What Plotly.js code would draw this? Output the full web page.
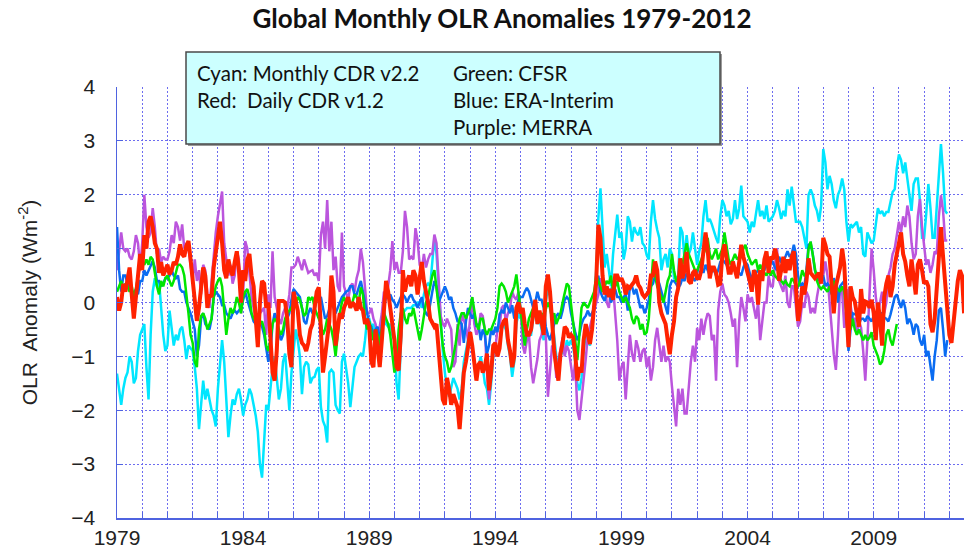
<!DOCTYPE html>
<html>
<head>
<meta charset="utf-8">
<script src="https://cdn.plot.ly/plotly-3.0.1.min.js"></script>
<style>html,body{margin:0;padding:0;background:#fff;}#chart{width:964px;height:550px;}</style>
</head>
<body>
<div id="chart"></div>
<script>
// Monthly series, first value = January 1979
const startYear = 1979;
const tickYears = [1979, 1984, 1989, 1994, 1999, 2004, 2009];

const cyanMonthlyCDR = [
-1.32,-1.6,-1.9,-1.6,-1.4,-1.3,-1.0,-1.1,-1.5,-1.4,-0.9,-0.6,
-0.5,-0.4,-1.2,-1.8,-0.6,0.2,0.45,0.3,0.4,-0.15,-0.6,-0.9,
-0.8,-0.15,-0.5,-0.8,-0.6,-0.7,-0.5,-0.45,-0.7,-1.05,-0.8,-0.85,
-0.9,-1.2,-1.6,-2.35,-1.9,-1.45,-1.8,-1.6,-1.8,-2.0,-2.1,-2.3,
-1.6,-1.2,-0.7,-1.1,-1.7,-2.5,-2.1,-1.8,-1.9,-1.7,-1.6,-1.8,
-2.1,-1.9,-1.8,-1.6,-1.7,-1.9,-2.1,-2.4,-3.0,-3.25,-2.5,-1.9,
-2.0,-1.6,-1.2,-1.0,-1.4,-1.8,-1.6,-1.1,-0.95,-1.5,-2.0,-1.3,
-0.9,-0.5,-0.7,-1.0,-1.7,-1.2,-1.1,-1.15,-1.5,-1.4,-1.38,-1.25,
-1.2,-1.94,-2.2,-2.3,-2.6,-1.3,-1.25,-1.3,-1.9,-2.0,-2.06,-1.1,
-0.95,-1.2,-1.5,-1.94,-1.5,-1.2,-1.1,-1.0,-0.95,-1.0,-0.7,-0.3,
-0.3,-0.45,-0.4,-0.7,-0.95,-0.85,-0.6,-0.1,-0.4,-0.45,-0.4,-0.6,
-0.7,-1.5,-1.8,-0.8,-0.2,-0.15,-0.1,-0.1,-0.1,-0.05,-0.05,0.0,
0.0,-0.1,0.15,0.3,0.35,0.3,0.7,1.2,0.9,0.3,-0.5,-0.9,
-1.3,-1.6,-1.75,-1.6,-1.4,-1.5,-1.6,-1.8,-1.6,-1.1,-0.9,-0.7,
-0.6,-0.8,-1.1,-1.3,-1.2,-1.0,-1.2,-1.5,-1.6,-1.9,-1.5,-1.0,
-0.8,-0.9,-0.8,-0.5,-0.4,-0.5,-0.8,-1.0,-1.38,-1.1,-0.4,-0.2,
-0.3,-0.2,-0.5,-0.7,-0.6,-0.6,-0.3,-0.1,-0.4,-0.3,-0.5,-0.7,
0.0,0.3,0.1,-0.3,-0.7,-1.0,-1.2,-1.0,-0.9,-0.95,-0.7,-0.8,
-0.7,-0.8,-1.1,-1.5,-1.63,-1.4,-0.9,-0.6,-0.7,-0.8,-0.5,-0.1,
0.6,1.57,2.12,1.3,0.65,0.9,0.6,0.3,0.9,1.3,1.63,1.2,
1.3,0.8,1.0,1.6,1.5,1.13,1.4,1.3,1.25,1.4,1.1,1.05,
0.88,0.8,1.5,1.9,1.55,1.35,1.2,0.6,0.8,0.9,0.65,1.0,
0.9,0.45,0.45,0.5,1.4,1.3,0.8,1.25,0.9,1.0,1.3,1.0,
0.7,0.95,1.1,1.6,1.9,1.5,1.55,1.45,1.3,1.2,1.1,1.6,
1.9,1.8,1.6,1.7,1.45,1.55,1.9,1.55,1.75,2.17,1.6,1.55,
1.5,1.3,1.5,1.4,1.65,1.9,1.6,1.7,1.55,1.8,1.5,1.55,
1.6,1.7,1.9,1.75,1.55,1.7,1.6,2.1,1.8,2.15,1.8,1.5,
1.5,1.5,1.4,1.2,1.0,2.0,2.1,2.0,1.8,1.7,1.5,1.8,
2.85,2.6,2.1,2.35,2.2,1.9,1.75,2.0,2.1,2.3,2.1,1.5,
1.13,1.45,1.4,1.45,1.5,1.3,1.4,0.9,0.85,1.3,1.2,1.1,
1.15,1.5,1.75,1.65,1.7,1.6,1.68,1.68,1.9,2.05,2.1,2.5,
2.75,2.65,2.4,2.6,2.3,1.95,1.7,2.2,2.3,2.3,1.9,1.2,
1.2,1.65,2.2,1.75,1.2,1.2,1.8,2.4,2.94,2.4,1.7,1.65
];

const purpleMERRA = [
0.6,1.0,1.3,1.0,0.95,1.0,0.85,0.8,0.95,1.25,1.1,0.65,
1.1,2.0,1.4,1.2,1.3,1.75,1.4,0.9,1.0,0.75,0.85,0.8,
0.8,0.95,1.25,1.1,1.5,1.4,1.15,1.45,1.0,1.1,1.0,0.7,
0.4,0.8,0.4,0.6,0.15,0.7,0.6,0.15,-0.1,0.4,0.9,1.3,
1.6,1.8,2.06,1.1,0.8,0.5,0.7,0.35,0.5,0.95,0.8,-0.2,
0.15,1.14,1.0,0.5,0.1,-0.1,-0.3,-0.5,-0.2,-0.15,-0.1,-0.6,
0.15,-0.1,0.95,0.1,-0.1,-0.3,-0.4,-0.2,-0.1,-0.1,0.15,0.65,
0.65,0.7,0.85,0.7,0.6,0.8,0.65,0.55,0.58,0.6,0.5,0.55,
0.4,1.25,1.5,1.0,1.9,0.95,1.5,0.6,0.85,0.3,0.2,1.3,
0.3,0.15,0.05,0.3,0.35,0.2,0.45,0.6,1.0,0.75,0.3,-0.2,
-0.2,-0.1,-0.3,-0.4,-0.6,-0.45,-0.2,0.2,0.15,0.3,0.6,1.14,
0.6,0.75,0.55,0.55,0.95,1.7,1.4,0.8,0.85,0.8,1.38,1.15,
0.7,0.6,0.9,0.65,0.8,0.9,0.9,1.26,1.1,0.3,-0.25,-0.4,
-0.45,-0.3,-0.4,-0.5,-1.2,-1.1,-0.4,-0.8,-0.2,-0.35,-0.45,-0.7,
-0.3,0.1,-0.4,-0.6,-0.5,-0.2,-0.25,-0.5,-1.3,-1.8,-1.3,-0.95,
-0.85,-0.5,-0.45,-0.1,-0.05,-0.35,-0.2,-0.1,0.2,0.1,0.05,0.2,
-0.1,-0.8,-0.95,-0.7,-0.6,-1.2,-1.5,-1.3,-1.05,-0.7,-0.6,-0.35,
-0.6,-1.75,-1.2,-0.8,-0.85,-1.4,-1.1,-0.85,-0.65,-1.0,-0.8,-0.9,
-1.2,-1.45,-1.1,-2.0,-2.18,-1.8,-1.5,-1.05,-0.6,-0.45,-0.3,-0.15,
0.05,0.15,0.45,0.3,0.4,0.0,-0.1,0.25,0.3,-0.2,-0.7,-1.45,
-1.2,-1.1,-1.8,-1.2,-0.6,-0.95,-1.1,-0.7,-0.85,-1.1,-0.9,-0.85,
-1.2,-1.0,-1.45,-1.2,-0.7,-0.47,-0.8,-1.1,-0.8,-1.1,-1.0,-1.1,
-1.55,-1.9,-2.3,-1.6,-1.9,-1.6,-2.06,-2.06,-1.55,-1.1,-0.8,-1.1,
-0.47,-0.7,-0.3,-0.6,-0.35,-0.2,-0.25,-0.7,-0.6,-1.45,-0.15,0.2,
0.35,0.15,0.1,0.0,-0.2,-0.45,-0.3,-1.2,-0.35,0.1,-0.1,-0.35,
0.15,0.0,0.1,-0.1,-0.3,0.0,-0.7,-0.35,0.0,0.0,0.5,0.3,
0.3,0.7,1.0,0.4,0.3,0.2,0.5,0.0,-0.1,0.3,0.3,-0.05,
-0.45,-0.35,0.0,-0.1,0.2,0.1,-0.2,-0.1,-0.2,0.1,0.3,0.55,
0.5,0.76,0.5,0.0,-0.47,-0.96,-1.25,-0.6,0.3,0.2,-0.47,-0.1,
0.25,-0.05,-0.3,-0.3,-0.6,-0.35,-0.47,-0.9,-1.45,-0.7,0.3,1.0,
0.6,0.1,-0.2,0.0,0.2,-0.2,0.0,0.5,0.65,0.9,1.0,1.25,
1.5,1.3,1.6,1.4,1.8,1.6,1.1,0.8,0.9,1.6,1.92,1.4,
1.0,0.7,0.8,0.55,0.7,0.95,0.9,1.6,1.99,1.7,1.15,1.15
];

const blueERAInterim = [
1.4,0.6,0.2,0.5,0.5,0.35,0.3,0.2,0.15,0.25,0.15,0.4,
0.4,0.6,0.5,0.6,0.7,0.77,0.65,0.4,0.4,0.3,0.35,0.45,
0.45,0.5,0.6,0.5,0.45,0.5,0.25,0.2,0.2,0.0,-0.1,-0.2,
-0.35,-0.5,-1.0,-0.8,-0.3,-0.2,-0.4,-0.45,-0.5,-0.3,0.1,0.2,
0.15,0.1,-0.05,-0.05,-0.2,-0.25,-0.3,-0.2,-0.15,-0.2,-0.15,-0.1,
0.05,0.2,0.05,-0.1,-0.25,-0.35,-0.4,-0.45,-0.35,-0.45,-0.6,-0.9,
-1.1,-0.9,-0.4,-0.2,-0.3,-0.55,-0.7,-0.6,-0.35,-0.3,-0.2,0.05,
0.25,0.2,0.15,0.1,-0.1,-0.35,-0.4,-0.2,-0.1,-0.2,-0.15,0.1,
0.05,0.1,-0.1,-0.3,-0.25,-0.1,0.0,-0.1,-0.2,-0.1,0.0,0.1,
0.15,0.2,0.22,0.3,0.3,0.15,0.15,0.27,0.4,0.2,0.0,-0.2,
-0.4,-0.45,-0.6,-0.5,-0.45,-0.7,-0.45,-0.1,0.1,0.1,0.15,0.05,
0.0,-0.1,0.0,0.1,0.15,0.1,0.0,0.1,0.15,0.05,0.0,-0.1,
0.0,0.1,-0.1,-0.2,-0.25,0.0,0.2,0.4,0.3,0.0,0.1,0.2,
0.3,0.2,0.05,0.1,-0.1,-0.2,-0.35,-0.35,-0.4,-0.75,-0.35,-0.1,
-0.2,-0.3,-0.2,-0.45,-0.4,-0.7,-0.5,-0.6,-0.95,-0.8,-0.5,-0.6,
-0.45,-0.55,-0.22,-0.15,-0.2,0.0,-0.1,-0.2,-0.05,-0.3,-0.1,0.05,
0.1,0.1,0.2,0.27,0.2,0.03,-0.1,0.0,0.2,0.05,0.05,-0.1,
-0.45,-0.6,-0.7,-0.55,-0.4,-0.25,-0.2,-0.3,-0.15,0.05,0.1,0.05,
-0.2,-0.4,-0.55,-0.7,-0.6,-0.4,-0.3,-0.25,-0.15,-0.25,-0.2,-0.1,
0.3,0.5,0.2,0.1,0.03,0.2,0.25,0.0,0.1,0.25,0.1,0.1,
0.0,0.1,0.15,-0.15,0.3,0.3,0.15,0.25,0.05,-0.1,-0.05,-0.2,
-0.1,0.05,0.3,0.35,0.5,0.35,0.35,0.2,0.1,-0.1,-0.22,0.3,
0.4,0.4,0.35,0.27,0.33,0.45,0.4,0.55,0.45,0.5,0.45,0.4,
0.55,0.7,0.65,0.55,0.7,0.6,0.5,0.6,0.6,0.5,0.6,0.75,
0.8,0.75,0.7,0.6,0.62,0.68,0.65,0.6,0.55,0.5,0.65,0.75,
0.7,0.55,0.4,0.6,0.55,0.6,0.55,0.55,0.6,0.75,0.6,0.75,
0.75,0.65,0.6,0.85,0.75,0.75,0.85,0.95,0.85,0.9,1.07,0.9,
0.5,0.3,0.35,0.3,0.6,1.07,1.1,0.9,0.6,0.5,0.4,0.45,
0.5,0.3,0.35,0.3,0.15,0.45,0.35,0.0,0.3,0.35,0.4,-0.2,
-0.9,-0.5,-0.2,-0.22,-0.22,-0.4,-0.3,-0.3,-0.35,-0.25,-0.3,-0.35,
-0.25,-0.45,-0.3,-0.2,-0.2,-0.28,-0.3,-0.35,-0.22,-0.05,0.1,0.15,
0.0,-0.1,0.05,-0.1,-0.4,-0.3,-0.4,-0.6,-0.4,-0.45,-0.7,-0.8,
-0.6,-1.0,-0.9,-1.2,-1.45,-1.0,-0.7,-0.15,-0.1,-0.5,-1.0,-0.7
];

const greenCFSR = [
0.2,0.3,0.4,0.25,0.35,0.3,0.2,0.3,0.1,0.25,0.5,0.7,
0.75,0.7,0.8,0.7,0.85,0.8,0.55,0.3,0.15,0.4,0.3,0.45,
0.5,0.4,0.3,0.4,0.55,0.7,0.7,0.65,0.5,0.2,-0.2,-0.6,
-0.75,-1.1,-1.2,-0.5,-0.25,-0.2,-0.3,-0.5,-0.4,-0.3,0.1,0.3,
0.4,0.46,0.3,-0.2,-0.6,-0.3,-0.1,-0.2,-0.1,0.1,0.0,-0.2,
0.1,0.2,0.25,0.1,-0.2,-0.3,-0.35,-0.5,-0.4,-0.35,-0.5,-0.8,
-0.9,-0.7,-0.4,-0.3,-0.35,-0.5,-0.6,-0.5,-0.3,-0.2,-0.15,-0.1,
0.0,-0.05,0.1,0.05,-0.1,-0.25,-0.2,0.1,0.05,0.1,-0.1,-0.2,
-0.3,-0.4,-0.6,-0.5,-0.3,-0.4,-0.5,-0.7,-1.0,-0.6,-0.2,0.0,
0.1,0.0,0.05,-0.1,0.0,0.15,0.1,0.0,0.28,0.15,-0.3,-0.5,
-0.35,-0.55,-0.7,-0.5,-0.6,-0.8,-0.5,-0.2,-0.3,-0.4,-0.6,-1.0,
-1.3,-1.1,-0.5,-0.2,-0.1,-0.3,-0.4,-0.2,-0.25,-0.1,-0.3,-0.5,
-0.7,-0.5,-0.2,0.0,0.1,0.3,0.5,0.6,0.3,0.0,-0.4,-0.8,
-1.0,-1.1,-1.3,-1.2,-1.0,-0.8,-0.5,-0.3,-0.2,-0.2,-0.3,-0.2,
-0.1,0.1,-0.2,-0.4,-0.5,-0.3,-0.3,-0.5,-0.6,-0.5,-0.5,-0.4,
-0.3,-0.1,0.3,0.35,0.3,0.2,0.0,0.1,0.2,0.3,0.52,0.2,
-0.1,-0.4,-0.8,-0.5,-0.3,-0.2,-0.1,-0.15,-0.2,-0.3,-0.2,-0.25,
-0.1,0.0,-0.1,-0.3,-0.2,-0.4,-0.3,-0.2,0.0,0.2,0.35,0.3,
0.0,-0.3,-0.7,-1.07,-0.5,-0.1,0.0,-0.05,-0.1,0.0,0.1,0.2,
0.5,0.4,0.3,0.2,0.3,0.4,0.35,0.5,0.2,0.3,0.4,0.2,
0.1,0.0,0.1,0.0,-0.1,-0.3,-0.4,-0.25,-0.3,-0.5,-0.4,-0.6,
-0.55,-0.3,0.3,0.8,0.5,0.3,0.2,0.1,0.0,0.2,0.4,0.5,
0.9,0.6,0.4,0.4,0.5,0.7,0.9,1.1,0.9,0.8,0.7,0.6,
0.6,0.7,0.8,0.9,1.0,1.2,0.9,0.8,0.9,1.0,0.8,0.9,
1.0,1.3,1.0,0.8,0.7,0.8,0.9,0.8,0.85,0.9,1.0,1.07,
0.9,0.8,0.7,0.75,0.8,0.6,0.7,0.6,0.55,0.5,0.6,0.5,
0.6,0.5,0.45,0.5,0.4,0.35,0.4,0.33,0.3,0.45,0.4,0.3,
0.3,0.4,0.6,0.5,0.5,1.0,1.13,0.9,0.6,0.4,0.3,0.25,
0.3,0.25,0.2,0.3,0.2,0.4,0.3,0.25,0.2,0.3,0.2,-0.2,
-0.4,-0.5,-0.3,-0.5,-0.6,-0.5,-0.6,-0.7,-0.6,-0.7,-0.65,-0.55,
-0.8,-0.9,-1.0,-1.15,-1.1,-0.9,-0.6,-0.5,-0.7,-0.8,-0.6,-0.4
];

const redDailyCDR = [
0.1,-0.15,0.0,0.35,0.2,0.4,0.65,0.15,-0.3,0.1,0.45,0.9,
0.6,1.25,1.0,1.5,1.6,1.4,1.1,1.0,0.55,0.75,0.5,0.6,
0.7,0.52,0.6,0.75,0.7,0.85,1.08,0.9,0.85,1.05,1.14,0.8,
0.4,0.1,-0.34,-0.1,0.35,0.65,0.5,-0.1,0.15,0.1,0.65,0.95,
1.26,1.5,1.1,0.6,0.45,0.8,0.6,0.5,0.75,0.95,0.6,0.0,
0.6,0.4,0.8,0.9,0.5,0.3,-0.3,-0.83,0.0,0.4,0.35,-0.1,
0.0,-0.7,-1.3,-1.45,-0.9,0.03,0.03,0.03,0.0,-0.3,-0.95,-1.2,
0.2,0.0,-0.15,-0.6,-0.75,-0.8,-0.9,-0.75,-0.5,-0.4,-0.1,0.2,
0.28,-0.5,-1.3,-1.0,-0.6,-0.35,0.5,0.2,-0.8,-0.45,-0.2,-0.3,
-0.1,0.0,0.1,-0.1,0.0,-0.05,-0.15,0.1,-0.1,-0.15,-0.4,-0.3,
-0.45,-1.1,-1.2,-0.5,-0.95,-1.2,-0.7,-0.2,0.4,0.2,-0.1,-0.4,
-0.7,-1.2,-1.26,-0.6,0.6,0.2,0.4,0.5,0.3,0.6,0.5,0.15,
0.4,0.75,0.4,0.2,0.0,-0.3,-0.4,-0.45,-0.4,-0.9,-1.4,-1.8,
-1.9,-1.4,-1.6,-1.9,-1.7,-1.8,-1.94,-2.35,-1.8,-1.3,-1.1,-0.75,
-0.55,-0.8,-1.2,-1.45,-1.15,-1.1,-1.3,-1.2,-0.95,-1.63,-1.3,-0.8,
-0.75,-1.0,-0.85,-0.45,-0.35,-0.3,-0.7,-0.9,-1.2,-1.0,-0.1,0.0,
-0.2,-0.1,-0.4,-0.6,-0.6,-0.5,-0.2,0.05,-0.4,-0.15,-0.35,-0.6,
0.3,0.52,0.2,-0.4,-0.9,-1.2,-1.45,-0.95,-0.75,-0.45,-0.5,-0.65,
-0.6,-0.65,-0.95,-1.45,-1.2,-1.3,-0.7,-0.4,-0.6,-0.77,-0.5,-0.1,
0.4,1.44,1.2,0.5,0.15,0.3,0.1,0.25,0.05,0.5,0.5,0.4,
0.45,0.35,0.15,0.3,0.27,0.33,0.38,0.5,0.33,0.27,0.15,0.1,
0.15,0.2,0.5,0.5,0.76,0.6,0.0,-0.2,-0.3,-0.4,-0.7,-0.96,
-0.6,-0.35,0.1,0.27,0.82,0.45,0.6,0.94,0.4,0.35,0.55,0.6,
0.45,0.45,0.6,1.0,1.3,1.0,0.45,0.65,0.65,0.55,0.33,0.35,
0.9,1.08,0.76,0.55,0.55,0.76,0.6,0.45,0.75,1.07,0.85,0.7,
0.6,0.4,0.2,0.6,0.5,-0.04,0.6,0.4,0.8,0.95,0.55,0.85,
0.8,1.0,0.85,0.4,0.6,0.85,0.55,0.8,0.6,0.85,0.95,0.4,
-0.34,-0.1,0.3,0.15,0.4,0.82,0.55,0.5,0.45,0.5,0.55,0.35,
1.2,1.07,0.9,0.85,0.3,-0.2,0.3,0.5,0.65,1.0,0.7,-0.1,
-0.83,0.3,0.1,0.02,-0.22,-0.45,0.25,-0.2,0.02,0.0,-0.1,0.05,
-0.2,-0.7,0.0,-0.3,-0.8,0.1,0.35,0.5,0.1,0.3,0.7,0.9,
1.1,1.3,0.9,0.76,0.5,0.3,0.8,0.4,0.15,0.7,0.8,0.6,
0.35,0.4,0.3,-0.4,-0.55,-0.3,0.27,0.9,1.4,0.85,0.3,-0.1,
-0.6,-0.75,-0.35,-0.1,0.4,0.6,0.5,-0.2
];

const legendLeft = ["Cyan: Monthly CDR v2.2", "Red:&nbsp; Daily CDR v1.2"];
const legendRight = ["Green: CFSR", "Blue: ERA-Interim", "Purple: MERRA"];

function monthAxis(values) {
  return values.map((_, i) => startYear + i / 12);
}

function series(values, color, width) {
  return {
    type: 'scatter', mode: 'lines',
    x: monthAxis(values), y: values,
    line: {color: color, width: width},
    hoverinfo: 'skip'
  };
}

const data = [
  series(cyanMonthlyCDR, '#00e6ff', 2.5),
  series(purpleMERRA, '#bb55dd', 2.5),
  series(blueERAInterim, '#0a6cf2', 2.5),
  series(greenCFSR, '#00e600', 2.5),
  series(redDailyCDR, '#ff2200', 4)
];

const axisColor = '#4f63e0';
const gridColor = '#6d6df0';
const tickFont = {family: "'Liberation Sans', Arial, sans-serif", size: 21, color: '#222'};

// plot area: x 117..964, y 87..518
const px = v => (v - 117) / 847;
const py = v => (518 - v) / 431;

const legendFont = {family: 'Lato, sans-serif', size: 20.5, color: '#111'};
const annotations = [];
legendLeft.forEach((t, i) => annotations.push({
  xref: 'paper', yref: 'paper', x: px(195), y: py(73 + 27 * i), xanchor: 'left', yanchor: 'middle',
  text: t, showarrow: false, font: legendFont
}));
legendRight.forEach((t, i) => annotations.push({
  xref: 'paper', yref: 'paper', x: px(451), y: py(73 + 27 * i), xanchor: 'left', yanchor: 'middle',
  text: t, showarrow: false, font: legendFont
}));

const layout = {
  width: 964, height: 550,
  margin: {l: 117, r: 0, t: 87, b: 32, pad: 0},
  paper_bgcolor: '#fff', plot_bgcolor: '#fff',
  showlegend: false,
  title: {
    text: 'Global Monthly OLR Anomalies 1979-2012',
    font: {family: 'Lato, sans-serif', size: 26, weight: 'bold', color: '#111'},
    xref: 'container', yref: 'container', x: 502 / 964, y: 1 - 19 / 550,
    xanchor: 'center', yanchor: 'middle'
  },
  xaxis: {
    range: [1979, 2012.58],
    tickmode: 'array', tickvals: tickYears, ticktext: tickYears.map(String),
    ticks: 'inside', ticklen: 6, tickcolor: axisColor, tickwidth: 1,
    showgrid: true, gridcolor: gridColor, griddash: '2px,2px', gridwidth: 1,
    minor: {tickmode: 'linear', tick0: 1979, dtick: 1, ticks: 'inside', ticklen: 6, tickcolor: axisColor,
            showgrid: true, gridcolor: gridColor, griddash: '2px,2px', gridwidth: 1},
    showline: true, linecolor: axisColor, linewidth: 1.5,
    zeroline: false, tickfont: tickFont, ticklabelstandoff: 0, fixedrange: true
  },
  yaxis: {
    range: [-4, 4], tickmode: 'linear', tick0: -4, dtick: 1,
    ticks: 'inside', ticklen: 6, tickcolor: axisColor,
    showgrid: true, gridcolor: gridColor, griddash: '2px,2px', gridwidth: 1,
    showline: true, linecolor: axisColor, linewidth: 1.5,
    zeroline: false, tickfont: tickFont, ticklabelstandoff: 16,
    title: {text: 'OLR&nbsp; Anomaly (Wm<sup>-2</sup>)', font: {family: "'Liberation Sans', Arial, sans-serif", size: 21, color: '#222'}, standoff: 28},
    fixedrange: true
  },
  shapes: [
    {type: 'rect', xref: 'paper', yref: 'paper', x0: px(188), x1: px(722), y0: py(146), y1: py(54),
     fillcolor: '#9a9a9a', line: {width: 0}, layer: 'above'},
    {type: 'rect', xref: 'paper', yref: 'paper', x0: px(186), x1: px(720), y0: py(144), y1: py(52),
     fillcolor: '#ccffff', line: {color: '#4a4a4a', width: 1.5}, layer: 'above'}
  ],
  annotations: annotations
};

Plotly.newPlot('chart', data, layout, {displayModeBar: false, staticPlot: true});
</script>
</body>
</html>
